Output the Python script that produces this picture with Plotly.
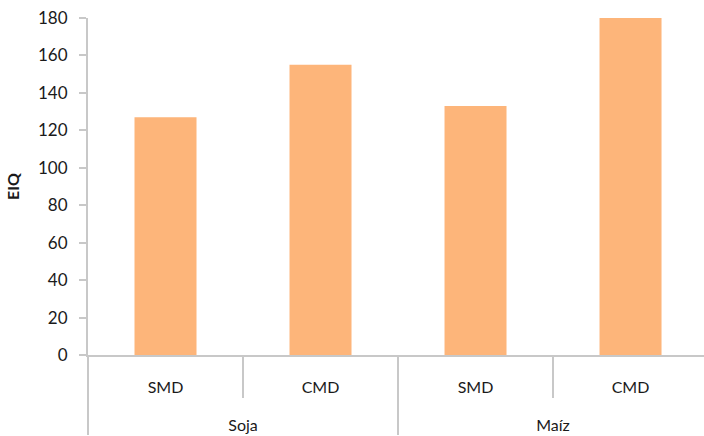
import plotly.graph_objects as go

groups = ["Soja", "Soja", "Maíz", "Maíz"]
subcats = ["SMD", "CMD", "SMD", "CMD"]
eiq = [127, 155, 133, 180]

# display labels: real text at 16px; tickfont size sets the line spacing
sub_lbl = [f"<span style='font-size:16px'>{s}</span><br>&nbsp;<br>&nbsp;" for s in subcats]
grp_lbl = [f"<span style='font-size:16px'>{g}</span>" for g in groups]

fig = go.Figure(go.Bar(
    x=[grp_lbl, sub_lbl], y=eiq,
    marker=dict(color="#FDB57A", line=dict(width=0)),
    width=0.4,
))

fig.update_layout(
    width=704, height=436,
    margin=dict(l=88, r=0, t=18, b=81),
    plot_bgcolor="white", paper_bgcolor="white",
    font=dict(family="Lato, Open Sans, sans-serif", size=16, color="#1a1a1a"),
    showlegend=False,
)
fig.update_xaxes(
    type="multicategory",
    range=[-0.5, 3.474],
    showline=True, linecolor="#c8c8c8", linewidth=2,
    ticks="outside", ticklen=41, tickcolor="#c8c8c8", tickwidth=2,
    ticklabelstandoff=19,
    showdividers=True, dividercolor="#c8c8c8", dividerwidth=2,
    showgrid=False, tickfont=dict(size=14),
)
fig.update_yaxes(
    range=[0, 180], dtick=20,
    showline=True, linecolor="#c8c8c8", linewidth=2,
    ticks="outside", ticklen=7, tickcolor="#c8c8c8", tickwidth=2,
    ticklabelstandoff=8,
    showgrid=False, zeroline=False,
    title=dict(text="<b>EIQ</b>", font=dict(size=16), standoff=14),
    tickfont=dict(size=17),
)

fig.write_html("out.html")
